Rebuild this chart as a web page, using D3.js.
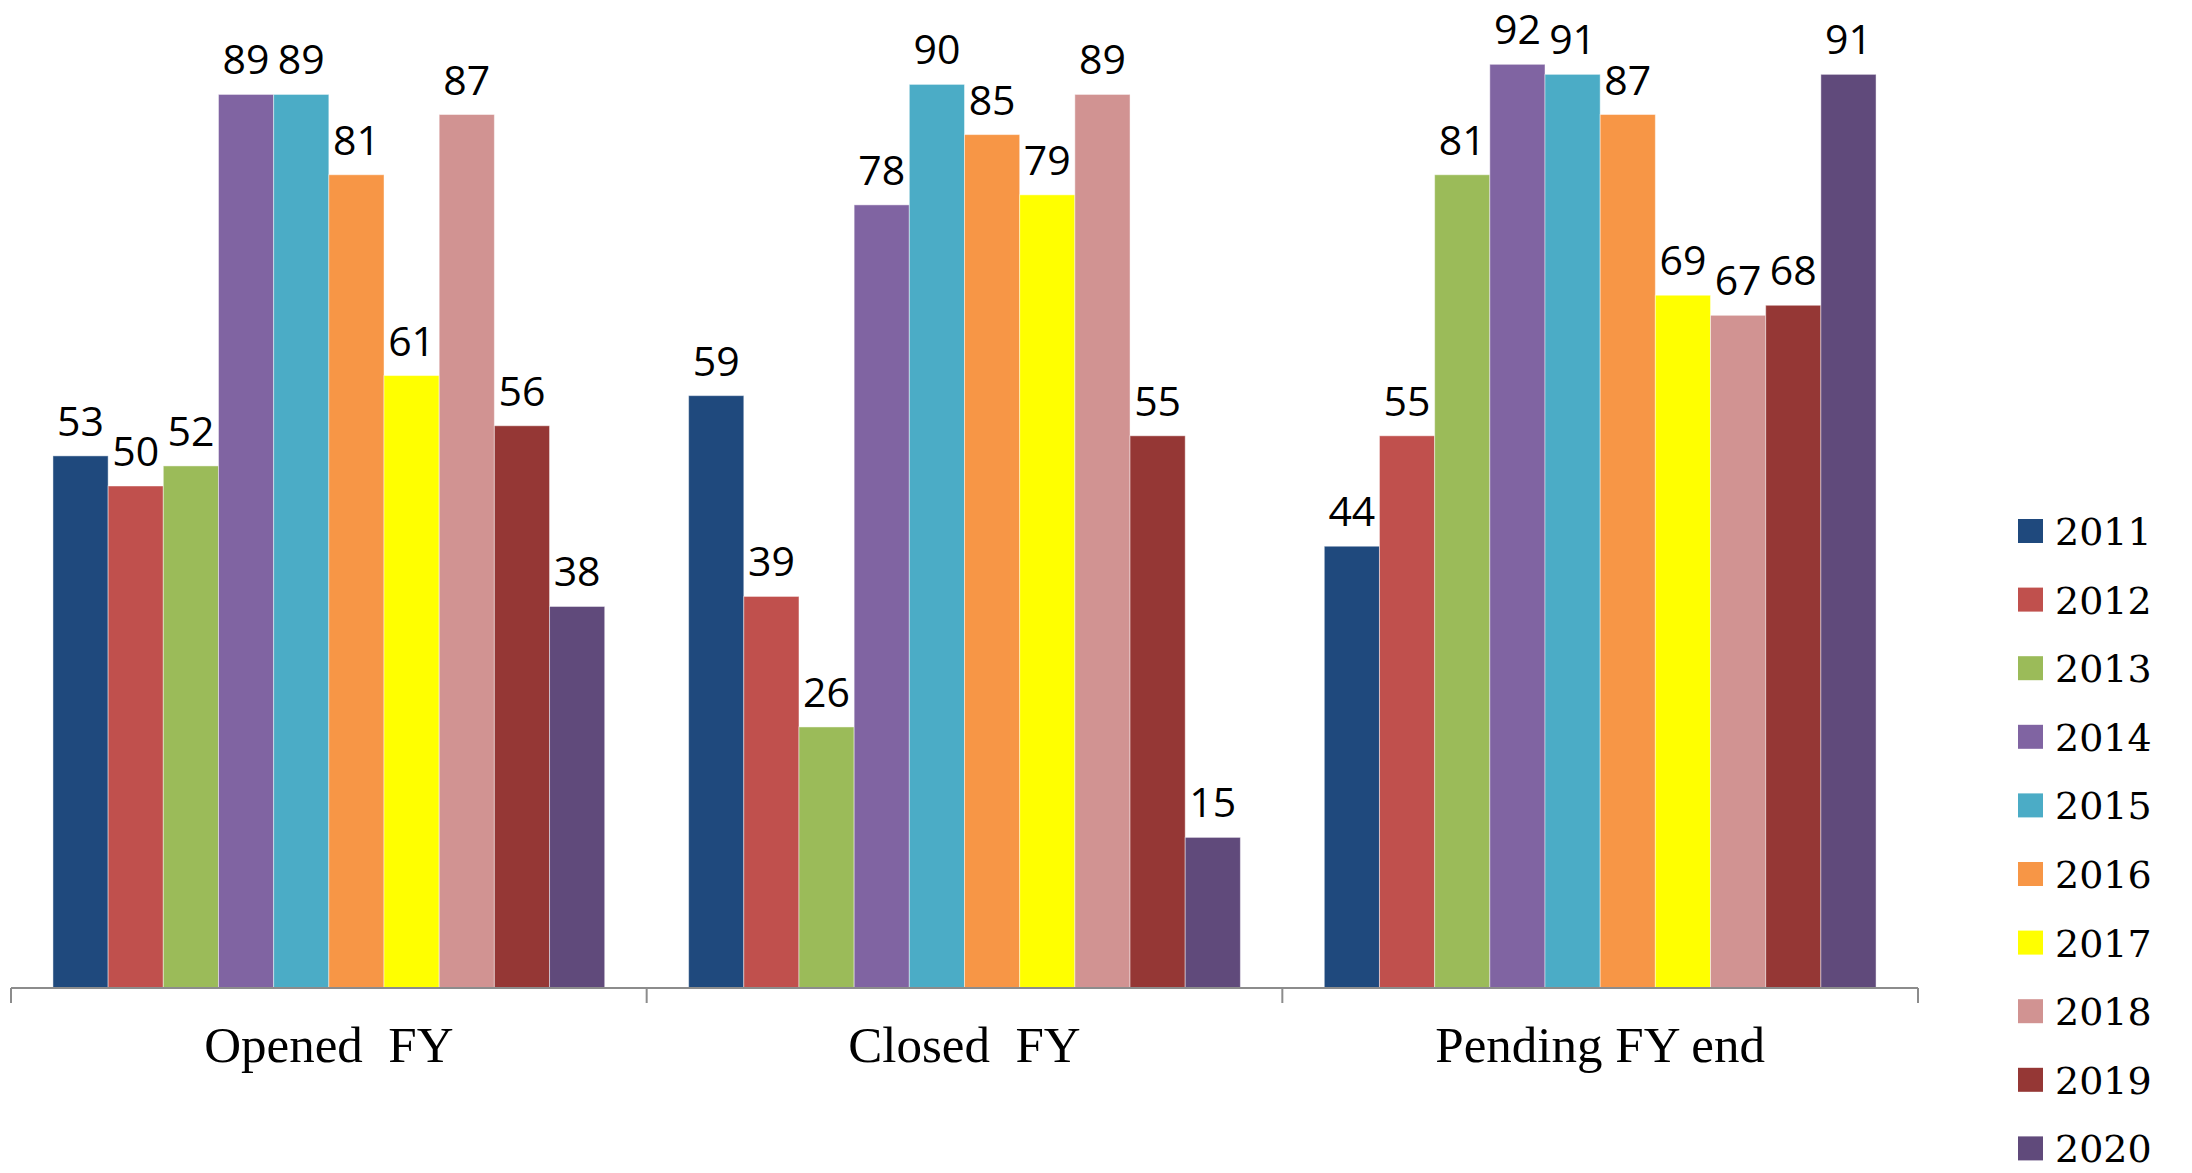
<!DOCTYPE html>
<html>
<head>
<meta charset="utf-8">
<script src="https://cdn.jsdelivr.net/npm/d3@7/dist/d3.min.js"></script>
<style>
  html, body { margin: 0; padding: 0; background: #fff; }
  svg { display: block; }
</style>
</head>
<body>
<svg id="chart" width="2192" height="1173"></svg>
<script>
// Case counts per fiscal-year stage, one series per year
const categories = ["Opened  FY", "Closed  FY", "Pending FY end"];
const years = ["2011", "2012", "2013", "2014", "2015", "2016", "2017", "2018", "2019", "2020"];
const opened  = [53, 50, 52, 89, 89, 81, 61, 87, 56, 38];
const closed  = [59, 39, 26, 78, 90, 85, 79, 89, 55, 15];
const pending = [44, 55, 81, 92, 91, 87, 69, 67, 68, 91];
const seriesValues = [opened, closed, pending];
const yearColors = ["#1F497D", "#C0504D", "#9BBB59", "#8064A2", "#4BACC6",
                    "#F79646", "#FFFF00", "#D19392", "#953735", "#604A7B"];

const svg = d3.select("#chart");

const plotLeft = 11, plotRight = 1918, baseY = 988;

const x0 = d3.scaleBand().domain(categories).range([plotLeft, plotRight]).padding(0);
const step = x0.bandwidth();
const gap = step * 0.066;
const x1 = d3.scaleBand().domain(years).range([gap, step - gap]).padding(0);
const y = d3.scaleLinear().domain([0, 100]).range([baseY, -16]);
const color = d3.scaleOrdinal().domain(years).range(yearColors);

const rows = categories.map((c, i) => ({
  category: c,
  values: years.map((yr, j) => ({ year: yr, value: seriesValues[i][j] }))
}));

const groups = svg.selectAll("g.group")
  .data(rows)
  .join("g")
  .attr("class", "group")
  .attr("transform", d => `translate(${x0(d.category)},0)`);

groups.selectAll("rect")
  .data(d => d.values)
  .join("rect")
  .attr("x", d => x1(d.year))
  .attr("y", d => y(d.value))
  .attr("width", x1.bandwidth())
  .attr("height", d => y(0) - y(d.value))
  .attr("fill", d => color(d.year))
  .attr("stroke", "rgba(255,255,255,0.45)")
  .attr("stroke-width", 1);

groups.selectAll("text.value")
  .data(d => d.values)
  .join("text")
  .attr("class", "value")
  .attr("x", d => x1(d.year) + x1.bandwidth() / 2)
  .attr("y", d => y(d.value) - 20)
  .attr("text-anchor", "middle")
  .attr("font-family", "'Open Sans', 'Liberation Sans', sans-serif")
  .attr("font-size", 41)
  .attr("fill", "#000")
  .text(d => d.value);

// Category axis with downward tick marks at band boundaries
const axisG = svg.append("g").attr("transform", `translate(0,${baseY})`);
axisG.append("line")
  .attr("x1", plotLeft).attr("x2", plotRight)
  .attr("y1", 0).attr("y2", 0)
  .attr("stroke", "#8c8c8c").attr("stroke-width", 2);
const tickXs = categories.map(c => x0(c)).concat([x0(categories[categories.length - 1]) + step]);
axisG.selectAll("line.tick")
  .data(tickXs)
  .join("line")
  .attr("class", "tick")
  .attr("x1", d => d).attr("x2", d => d)
  .attr("y1", 0).attr("y2", 15)
  .attr("stroke", "#8c8c8c").attr("stroke-width", 2);
axisG.selectAll("text.cat")
  .data(categories)
  .join("text")
  .attr("class", "cat")
  .attr("x", d => x0(d) + step / 2)
  .attr("y", 74)
  .attr("text-anchor", "middle")
  .attr("font-family", "'Liberation Serif', 'Times New Roman', serif")
  .attr("font-size", 51)
  .attr("fill", "#000")
  .style("white-space", "pre")
  .attr("xml:space", "preserve")
  .text(d => d);

// Legend
const legend = svg.append("g").attr("transform", "translate(2018,519)");
const items = legend.selectAll("g.item")
  .data(years)
  .join("g")
  .attr("class", "item")
  .attr("transform", (d, i) => `translate(0,${i * 68.6})`);
items.append("rect")
  .attr("x", 0).attr("y", 0)
  .attr("width", 25).attr("height", 24)
  .attr("fill", d => color(d));
items.append("text")
  .attr("x", 37)
  .attr("y", 26)
  .attr("font-family", "'DejaVu Serif', serif")
  .attr("font-size", 38)
  .style("font-variant-numeric", "oldstyle-nums")
  .attr("fill", "#000")
  .text(d => d);
</script>
</body>
</html>
